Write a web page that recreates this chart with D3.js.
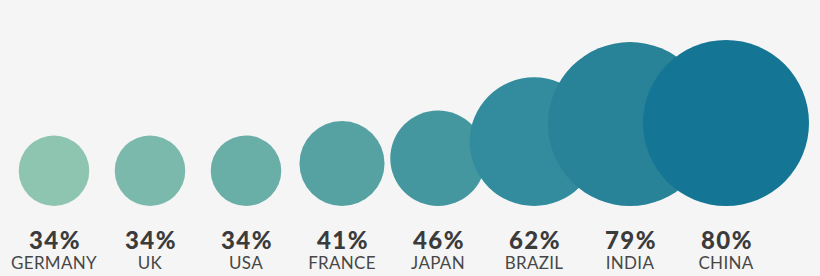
<!DOCTYPE html>
<html>
<head>
<meta charset="utf-8">
<script src="https://cdn.jsdelivr.net/npm/d3@7"></script>
<style>
  html, body { margin: 0; padding: 0; background: #f5f5f5; }
  svg { display: block; }
</style>
</head>
<body>
<script>
// countries, shares and bubble colours
var countries = ["GERMANY", "UK", "USA", "FRANCE", "JAPAN", "BRAZIL", "INDIA", "CHINA"];
var shares = [34, 34, 34, 41, 46, 62, 79, 80];
var colors = ["#8dc5b0", "#7bb9ac", "#6aaea8", "#56a2a3", "#44979f", "#328c9e", "#288298", "#147594"];

var w = 820,
  h = 276;

var svg = d3.select("body")
  .append("svg")
  .attr("width", w)
  .attr("height", h);

// even spacing, one slot per country
var x = d3.scalePoint()
  .domain(countries)
  .range([54, 726]);

// radius grows linearly with the share
var r = d3.scaleLinear()
  .domain([0, 80])
  .range([0, 83]);

var baseY = 206; // all bubbles sit on the same line

var rows = countries.map(function (c, i) {
  return { name: c, value: shares[i], color: colors[i] };
});

// drawn left to right so the bigger ones overlap the previous
svg.append("g").selectAll("circle")
  .data(rows)
  .enter().append("circle")
  .attr("cx", function (d) { return x(d.name); })
  .attr("cy", function (d) { return baseY - r(d.value); })
  .attr("r", function (d) { return r(d.value); })
  .style("fill", function (d) { return d.color; });

var labels = svg.append("g").selectAll("g")
  .data(rows)
  .enter().append("g")
  .attr("transform", function (d) { return "translate(" + x(d.name) + ",0)"; });

labels.append("text")
  .attr("x", 1)
  .attr("y", 249)
  .style("text-anchor", "middle")
  .style("font-family", "Lato, 'Open Sans', sans-serif")
  .style("font-weight", 900)
  .style("font-size", "24px")
  .style("letter-spacing", "1.5px")
  .style("fill", "#3b3b3b")
  .text(function (d) { return d.value + "%"; });

labels.append("text")
  .attr("y", 269)
  .style("text-anchor", "middle")
  .style("font-family", "Lato, 'Open Sans', sans-serif")
  .style("font-weight", 400)
  .style("font-size", "17px")
  .style("letter-spacing", "0.3px")
  .style("fill", "#474747")
  .text(function (d) { return d.name; });
</script>
</body>
</html>
